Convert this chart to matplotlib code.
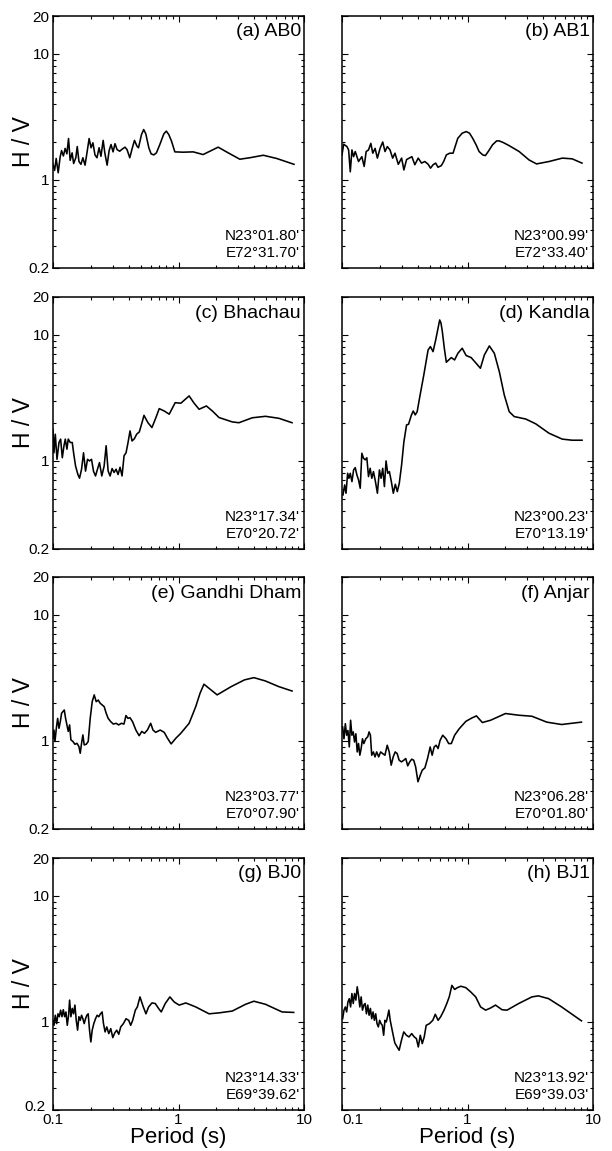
import numpy as np
import matplotlib
matplotlib.use('Agg')
import matplotlib.pyplot as plt
import matplotlib.transforms as mtransforms
from matplotlib.ticker import FixedLocator, LogLocator, NullFormatter

plt.rcParams['font.family'] = ['Liberation Sans', 'DejaVu Sans']

# (a) AB0
ab0_period = [0.100, 0.103, 0.106, 0.110, 0.114, 0.117, 0.121, 0.125, 0.129, 0.133,
              0.137, 0.142, 0.146, 0.152, 0.156, 0.161, 0.167, 0.173, 0.180, 0.187,
              0.194, 0.201, 0.208, 0.216, 0.224, 0.233, 0.241, 0.251, 0.259, 0.270,
              0.280, 0.290, 0.301, 0.312, 0.324, 0.340, 0.357, 0.375, 0.389, 0.409,
              0.429, 0.446, 0.467, 0.480, 0.507, 0.528, 0.549, 0.58, 0.605, 0.636,
              0.667, 0.71, 0.764, 0.80, 0.837, 0.88, 0.935, 1.09, 1.31, 1.57,
              1.78, 2.07, 2.49, 3.08, 3.70, 4.74, 6.06, 8.32]
ab0_hv = [1.33, 1.19, 1.48, 1.14, 1.52, 1.71, 1.55, 1.78, 1.61, 2.13,
          1.43, 1.64, 1.35, 1.50, 1.84, 1.40, 1.33, 1.50, 1.31, 1.67,
          2.13, 1.80, 1.97, 1.58, 1.50, 1.80, 1.54, 2.06, 1.63, 1.31,
          1.71, 1.91, 1.67, 1.94, 1.74, 1.69, 1.76, 1.82, 1.74, 1.50,
          1.80, 2.06, 1.85, 1.80, 2.29, 2.51, 2.32, 1.80, 1.61, 1.58,
          1.64, 1.91, 2.32, 2.44, 2.29, 2.03, 1.67, 1.66, 1.67, 1.59,
          1.69, 1.82, 1.64, 1.46, 1.50, 1.57, 1.48, 1.33]

# (b) AB1
ab1_period = [0.100, 0.1031, 0.1095, 0.1129, 0.1164, 0.1200, 0.1237, 0.1275, 0.1355, 0.1439,
              0.1502, 0.1558, 0.1626, 0.1697, 0.1759, 0.1835, 0.1914, 0.2011, 0.2111, 0.2202,
              0.2297, 0.2413, 0.2533, 0.2644, 0.2809, 0.2985, 0.3113, 0.3269, 0.3432, 0.3604,
              0.3805, 0.4048, 0.4302, 0.4574, 0.4862, 0.5073, 0.5321, 0.5578, 0.5820, 0.6188,
              0.6456, 0.6787, 0.7214, 0.767, 0.8368, 0.9075, 0.9775, 1.037, 1.10, 1.171,
              1.237, 1.323, 1.388, 1.475, 1.583, 1.707, 1.79, 1.928, 2.150, 2.58,
              3.096, 3.55, 4.46, 5.70, 6.83, 8.17]
ab1_hv = [1.58, 1.92, 1.84, 1.73, 1.16, 1.73, 1.53, 1.68, 1.40, 1.53,
          1.28, 1.68, 1.73, 1.95, 1.63, 1.78, 1.49, 1.78, 2.00, 1.68,
          1.84, 1.73, 1.49, 1.63, 1.33, 1.49, 1.20, 1.45, 1.49, 1.53,
          1.32, 1.49, 1.36, 1.40, 1.33, 1.24, 1.32, 1.36, 1.26, 1.30,
          1.40, 1.58, 1.63, 1.63, 2.14, 2.35, 2.42, 2.35, 2.14, 1.90,
          1.68, 1.58, 1.56, 1.70, 1.90, 2.04, 2.04, 1.98, 1.87, 1.68,
          1.44, 1.34, 1.40, 1.49, 1.47, 1.36]

# (c) Bhachau
bha_period = [0.100, 0.1018, 0.1043, 0.1076, 0.1116, 0.1150, 0.1186, 0.1223, 0.1253, 0.1291,
              0.1323, 0.1373, 0.1424, 0.1459, 0.1513, 0.1579, 0.1627, 0.1689, 0.1751, 0.1816,
              0.1884, 0.1954, 0.2027, 0.2102, 0.2181, 0.2262, 0.2346, 0.2448, 0.2555, 0.2651,
              0.2750, 0.2851, 0.2957, 0.3067, 0.3181, 0.3300, 0.3422, 0.3550, 0.3683, 0.3819,
              0.3962, 0.4109, 0.4263, 0.4448, 0.4642, 0.4874, 0.5117, 0.5308, 0.5711, 0.6143,
              0.661, 0.7024, 0.770, 0.8433, 0.9408, 1.0435, 1.215, 1.332, 1.459, 1.668,
              1.862, 2.103, 2.683, 3.03, 3.868, 4.933, 6.3, 8.03]
bha_hv = [1.78, 1.16, 1.63, 1.03, 1.40, 1.49, 1.06, 1.32, 1.49, 1.24,
          1.49, 1.40, 1.40, 1.16, 0.91, 0.78, 0.73, 0.86, 1.16, 0.83,
          1.03, 1.00, 1.03, 0.83, 0.76, 0.86, 0.97, 0.76, 0.91, 1.32,
          0.83, 0.76, 0.87, 0.81, 0.86, 0.78, 0.89, 0.76, 1.10, 1.16,
          1.40, 1.73, 1.44, 1.50, 1.63, 1.70, 2.01, 2.30, 2.01, 1.84,
          2.21, 2.60, 2.49, 2.35, 2.90, 2.87, 3.28, 2.87, 2.57, 2.73,
          2.49, 2.21, 2.04, 2.01, 2.20, 2.26, 2.18, 2.01]

# (d) Kandla
kan_period = [0.1018, 0.1050, 0.1076, 0.1109, 0.1136, 0.1164, 0.1200, 0.1237, 0.1275, 0.1314,
              0.1355, 0.1397, 0.1439, 0.1484, 0.1530, 0.1577, 0.1626, 0.1676, 0.1728, 0.1781,
              0.1847, 0.1915, 0.1987, 0.2048, 0.2111, 0.2177, 0.2244, 0.2313, 0.2385, 0.2473,
              0.2564, 0.2660, 0.2758, 0.2861, 0.2985, 0.3113, 0.3269, 0.3391, 0.3561, 0.3693,
              0.3830, 0.3972, 0.4169, 0.4485, 0.4853, 0.5064, 0.5316, 0.5580, 0.6003, 0.615,
              0.6303, 0.6536, 0.678, 0.7425, 0.789, 0.8386, 0.9075, 0.9759, 1.069, 1.171,
              1.267, 1.363, 1.493, 1.636, 1.792, 1.963, 2.150, 2.355, 2.914, 3.496,
              4.457, 5.684, 6.821, 8.185]
kan_hv = [0.537, 0.645, 0.554, 0.798, 0.728, 0.798, 0.685, 0.848, 0.885, 0.774,
          0.707, 0.607, 1.15, 1.05, 1.02, 1.06, 0.751, 0.874, 0.728, 0.823,
          0.685, 0.554, 0.848, 0.728, 0.874, 0.626, 1.00, 0.798, 0.823, 0.685,
          0.554, 0.653, 0.571, 0.665, 0.93, 1.42, 1.93, 1.955, 2.29, 2.49,
          2.32, 2.46, 3.24, 4.81, 7.60, 8.08, 7.37, 9.13, 13.15, 12.4,
          10.63, 7.84, 6.07, 6.61, 6.33, 7.15, 7.84, 6.86, 6.61, 5.96,
          5.44, 6.94, 8.18, 7.15, 5.12, 3.34, 2.46, 2.25, 2.15, 1.97,
          1.66, 1.49, 1.46, 1.46]

# (e) Gandhi Dham
gd_period = [0.100, 0.1018, 0.1037, 0.1063, 0.1089, 0.1116, 0.1143, 0.1171, 0.1200, 0.1230,
             0.1260, 0.1291, 0.1323, 0.1356, 0.1389, 0.1441, 0.1495, 0.1551, 0.1609, 0.1648,
             0.1689, 0.1730, 0.1773, 0.1839, 0.1908, 0.1979, 0.2053, 0.2130, 0.2209, 0.2292,
             0.2377, 0.2466, 0.2558, 0.2653, 0.2751, 0.2887, 0.3030, 0.3181, 0.3338, 0.3504,
             0.3677, 0.3814, 0.3956, 0.4104, 0.4307, 0.4575, 0.4859, 0.5100, 0.5352, 0.5651,
             0.6002, 0.6264, 0.6574, 0.7153, 0.7693, 0.8174, 0.8734, 0.9520, 1.0435, 1.215,
             1.3717, 1.4848, 1.5947, 1.747, 2.0322, 2.6325, 3.3523, 3.9874, 4.9328, 6.2852,
             8.0316]
gd_hv = [1.05, 1.22, 0.99, 1.26, 1.51, 1.26, 1.42, 1.66, 1.71, 1.76,
         1.51, 1.34, 1.19, 1.34, 1.02, 0.99, 0.94, 0.958, 0.902, 0.798,
         0.958, 1.116, 0.93, 0.94, 0.99, 1.51, 2.05, 2.32, 2.05, 2.11,
         1.99, 1.93, 1.87, 1.66, 1.51, 1.42, 1.36, 1.38, 1.34, 1.38,
         1.36, 1.59, 1.51, 1.53, 1.42, 1.22, 1.10, 1.19, 1.15, 1.22,
         1.38, 1.22, 1.17, 1.22, 1.17, 1.05, 0.947, 1.05, 1.15, 1.38,
         1.87, 2.39, 2.82, 2.62, 2.32, 2.70, 3.05, 3.18, 2.99, 2.70,
         2.49]

# (f) Anjar
anj_period = [0.1012, 0.1037, 0.1063, 0.1089, 0.1115, 0.1143, 0.1171, 0.1199, 0.1229, 0.1259,
              0.1290, 0.1322, 0.1354, 0.1387, 0.1421, 0.1456, 0.1492, 0.1547, 0.1604, 0.1644,
              0.1684, 0.1725, 0.1778, 0.1833, 0.1889, 0.1960, 0.2032, 0.2108, 0.2198, 0.2293,
              0.2378, 0.2466, 0.2558, 0.2653, 0.2751, 0.2853, 0.2977, 0.3106, 0.3221, 0.3340,
              0.3464, 0.3592, 0.3725, 0.3863, 0.4030, 0.4204, 0.4360, 0.4576, 0.4803, 0.5042,
              0.5229, 0.5423, 0.5623, 0.5831, 0.6047, 0.6346, 0.6745, 0.7079, 0.7431, 0.7896,
              0.8596, 0.9701, 1.082, 1.178, 1.313, 1.529, 2.007, 2.558, 3.261, 4.281,
              5.623, 8.091]
anj_hv = [1.29, 1.04, 1.37, 1.11, 1.21, 0.896, 1.46, 1.11, 1.18, 0.98,
          1.14, 0.818, 0.953, 0.77, 0.87, 1.04, 0.953, 1.04, 1.08, 1.18,
          1.11, 0.77, 0.818, 0.747, 0.818, 0.747, 0.818, 0.794, 0.77, 0.924,
          0.818, 0.642, 0.747, 0.818, 0.794, 0.703, 0.682, 0.703, 0.725, 0.634,
          0.682, 0.716, 0.703, 0.622, 0.474, 0.535, 0.586, 0.611, 0.725, 0.896,
          0.77, 0.896, 0.924, 0.87, 1.01, 1.11, 1.04, 0.953, 0.953, 1.11,
          1.25, 1.43, 1.52, 1.58, 1.40, 1.46, 1.65, 1.60, 1.57, 1.41,
          1.35, 1.41]

# (g) BJ0
bj0_period = [0.100, 0.1018, 0.1043, 0.1069, 0.1096, 0.1123, 0.1150, 0.1179, 0.1208, 0.1238,
              0.1268, 0.1299, 0.1331, 0.1356, 0.1389, 0.1424, 0.1459, 0.1495, 0.1532, 0.1570,
              0.1608, 0.1648, 0.1689, 0.1730, 0.1773, 0.1816, 0.1861, 0.1907, 0.1954, 0.2003,
              0.2052, 0.2115, 0.2181, 0.2248, 0.2318, 0.2389, 0.2463, 0.2524, 0.2602, 0.2683,
              0.2783, 0.2886, 0.2994, 0.3106, 0.3221, 0.3341, 0.3465, 0.3638, 0.3819, 0.4010,
              0.4159, 0.4315, 0.4530, 0.4699, 0.4933, 0.5244, 0.5504, 0.5780, 0.6143, 0.6529,
              0.6938, 0.7287, 0.7842, 0.8538, 0.9239, 1.0122, 1.1435, 1.373, 1.752, 2.103,
              2.683, 3.422, 3.986, 4.933, 6.689, 8.279]
bj0_hv = [1.03, 0.94, 1.13, 0.97, 1.16, 1.10, 1.24, 1.10, 1.25, 1.10,
          1.20, 0.94, 1.13, 1.49, 1.10, 1.28, 1.16, 1.36, 1.03, 0.86,
          1.10, 1.03, 1.13, 1.06, 0.97, 1.06, 1.13, 1.16, 0.86, 0.694,
          0.86, 0.97, 1.06, 1.13, 1.10, 1.16, 1.20, 0.97, 0.833, 0.913,
          0.808, 0.885, 0.751, 0.818, 0.86, 0.798, 0.913, 0.97, 1.06, 1.03,
          0.94, 1.03, 1.24, 1.315, 1.58, 1.315, 1.16, 1.315, 1.415, 1.40,
          1.28, 1.20, 1.40, 1.58, 1.44, 1.36, 1.415, 1.315, 1.16, 1.18,
          1.22, 1.38, 1.46, 1.38, 1.20, 1.19]

# (h) BJ1
bj1_period = [0.1012, 0.1037, 0.1063, 0.1089, 0.1115, 0.1143, 0.1171, 0.1199, 0.1229, 0.1259,
              0.1290, 0.1322, 0.1354, 0.1387, 0.1421, 0.1456, 0.1492, 0.1528, 0.1566, 0.1604,
              0.1644, 0.1684, 0.1725, 0.1768, 0.1811, 0.1856, 0.1901, 0.1948, 0.1996, 0.2045,
              0.2095, 0.2147, 0.2198, 0.2252, 0.2307, 0.2364, 0.2422, 0.2481, 0.2558, 0.2636,
              0.2751, 0.2853, 0.2977, 0.3106, 0.3259, 0.3419, 0.3592, 0.3767, 0.3914, 0.4056,
              0.4204, 0.4360, 0.4520, 0.4687, 0.4981, 0.5290, 0.5538, 0.5831, 0.6114, 0.6502,
              0.6839, 0.7152, 0.7511, 0.7898, 0.8296, 0.8860, 0.9701, 1.0610, 1.1620, 1.2720,
              1.3940, 1.5270, 1.6720, 1.8840, 2.0650, 2.5580, 3.2610, 3.6700, 4.4280, 5.6230,
              8.0910]
bj1_hv = [1.06, 1.24, 1.315, 1.20, 1.44, 1.53, 1.315, 1.68, 1.40, 1.68,
          1.49, 1.90, 1.63, 1.315, 1.58, 1.24, 1.36, 1.40, 1.16, 1.36,
          1.13, 1.28, 1.06, 1.20, 1.03, 1.16, 0.97, 0.913, 1.03, 0.97,
          0.94, 0.784, 1.03, 1.00, 1.10, 1.24, 1.03, 0.913, 0.784, 0.681,
          0.633, 0.596, 0.715, 0.833, 0.784, 0.76, 0.808, 0.76, 0.738, 0.633,
          0.784, 0.673, 0.76, 0.94, 0.97, 1.03, 1.15, 1.03, 1.10, 1.24,
          1.40, 1.58, 1.95, 1.81, 1.87, 1.92, 1.87, 1.73, 1.58, 1.315,
          1.24, 1.29, 1.36, 1.25, 1.24, 1.40, 1.58, 1.61, 1.53, 1.315,
          1.02]

periods = [ab0_period, ab1_period, bha_period, kan_period,
           gd_period, anj_period, bj0_period, bj1_period]
ratios = [ab0_hv, ab1_hv, bha_hv, kan_hv, gd_hv, anj_hv, bj0_hv, bj1_hv]

titles = ['(a) AB0', '(b) AB1', '(c) Bhachau', '(d) Kandla',
          '(e) Gandhi Dham', '(f) Anjar', '(g) BJ0', '(h) BJ1']
north = ["N23\u00b001.80'", "N23\u00b000.99'", "N23\u00b017.34'", "N23\u00b000.23'",
         "N23\u00b003.77'", "N23\u00b006.28'", "N23\u00b014.33'", "N23\u00b013.92'"]
east = ["E72\u00b031.70'", "E72\u00b033.40'", "E70\u00b020.72'", "E70\u00b013.19'",
        "E70\u00b007.90'", "E70\u00b001.80'", "E69\u00b039.62'", "E69\u00b039.03'"]

x_ticks = [0.1, 1, 10]
x_ticklabels = ['0.1', '1', '10']
y_ticks = [0.2, 1, 10, 20]
y_ticklabels = ['0.2', '1', '10', '20']

W, H = 612, 1151
fig = plt.figure(figsize=(W / 100, H / 100), dpi=100)

col_left = [53, 342]
row_top = [16, 297, 577, 858]
ax_w, ax_h = 251, 252

for i in range(8):
    r, c = divmod(i, 2)
    ax = fig.add_axes([col_left[c] / W, 1 - (row_top[r] + ax_h) / H, ax_w / W, ax_h / H])
    ax.plot(periods[i], ratios[i], color='black', lw=1.15, solid_joinstyle='round')
    ax.set_xscale('log')
    ax.set_yscale('log')
    ax.set_xlim(0.1, 10)
    ax.set_ylim(0.2, 20)

    ax.xaxis.set_major_locator(FixedLocator(x_ticks))
    ax.xaxis.set_minor_locator(LogLocator(base=10, subs=np.arange(2, 10)))
    ax.xaxis.set_minor_formatter(NullFormatter())
    ax.yaxis.set_major_locator(FixedLocator(y_ticks))
    ax.yaxis.set_minor_locator(LogLocator(base=10, subs=np.arange(2, 10)))
    ax.yaxis.set_minor_formatter(NullFormatter())

    ax.tick_params(which='both', direction='in', top=True, right=True,
                   width=0.8, labelsize=11, pad=2.5)
    ax.tick_params(which='major', length=4.5)
    ax.tick_params(which='minor', length=2.3)
    for sp in ax.spines.values():
        sp.set_linewidth(1.1)

    if c == 0:
        ax.set_yticklabels(y_ticklabels)
        ax.text(-0.116, 0.5, 'H / V', transform=ax.transAxes, rotation=90,
                ha='center', va='center', fontsize=16.5)
    else:
        ax.tick_params(labelleft=False)

    if r == 3:
        ax.set_xticklabels(x_ticklabels)
        if c == 1:
            ax.get_xticklabels()[0].set_ha('left')
        else:
            # lift the lowest y label so it clears the 0.1 below it
            low = ax.get_yticklabels()[0]
            low.set_transform(low.get_transform() +
                              mtransforms.ScaledTranslation(-3 / 72, 3 / 72, fig.dpi_scale_trans))
        ax.text(0.5, -0.11, 'Period (s)', transform=ax.transAxes,
                ha='center', va='center', fontsize=16)
    else:
        ax.tick_params(labelbottom=False)

    ax.text(0.988, 1 - 16 / ax_h, titles[i], transform=ax.transAxes,
            ha='right', va='center', fontsize=14)
    ax.text(0.984, 32 / ax_h, north[i], transform=ax.transAxes,
            ha='right', va='center', fontsize=11)
    ax.text(0.984, 15 / ax_h, east[i], transform=ax.transAxes,
            ha='right', va='center', fontsize=11)

fig.savefig('out.png', dpi=100)
